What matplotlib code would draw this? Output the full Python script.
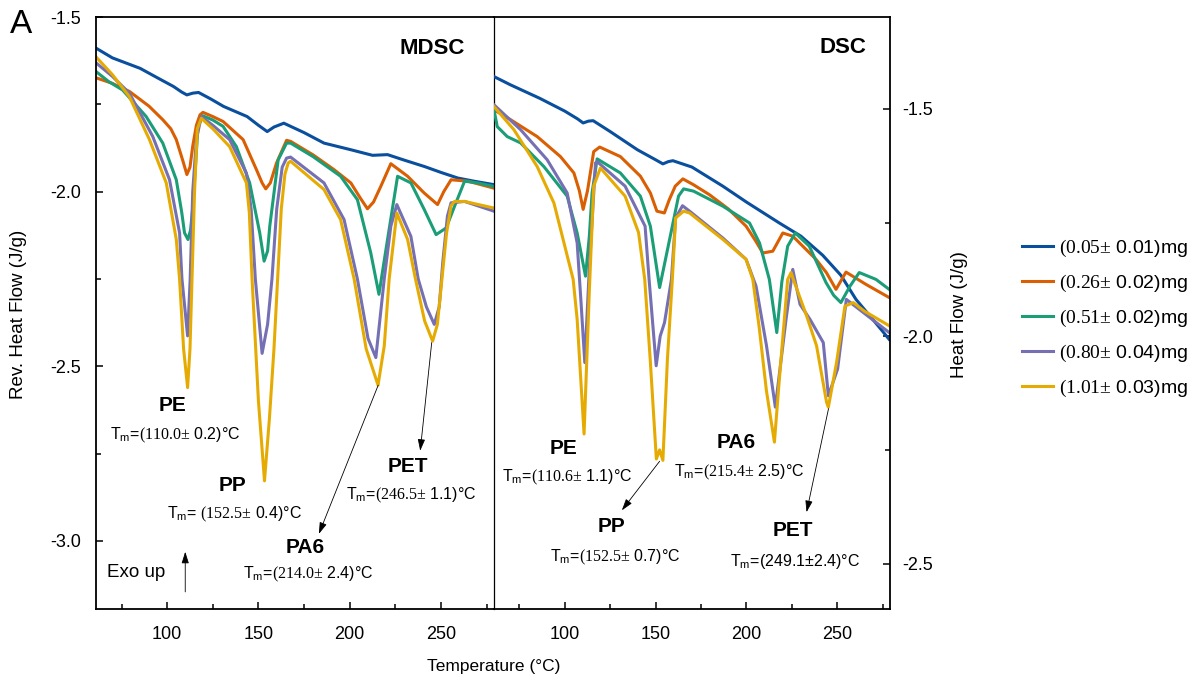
import matplotlib
matplotlib.use("Agg")
import matplotlib.pyplot as plt
from matplotlib.ticker import MultipleLocator

plt.rcParams['font.family'] = ['Liberation Sans', 'DejaVu Sans']
plt.rcParams['mathtext.fontset'] = 'custom'
plt.rcParams['mathtext.rm'] = 'Liberation Serif'
plt.rcParams['mathtext.default'] = 'regular'

# serif "(mass±" followed by sans "error)mg", as in the original
labels = [r'$\mathrm{(0.05±}$ 0.01)mg', r'$\mathrm{(0.26±}$ 0.02)mg',
          r'$\mathrm{(0.51±}$ 0.02)mg', r'$\mathrm{(0.80±}$ 0.04)mg',
          r'$\mathrm{(1.01±}$ 0.03)mg']
colors = ['#0a4f9e', '#d95f02', '#1b9e77', '#7570b3', '#e6ab02']

# ---- MDSC (left panel), reversing heat flow, J/g ----
mdsc_005_T = [61, 70, 85.2, 95, 103.5, 108, 110.8, 114, 117.2, 124, 130.9, 143.8, 150, 154.8,
              158.5, 163.9, 175, 185.9, 200.6, 208, 212.5, 220.7, 230, 240.9, 250, 259.2, 268, 279]
mdsc_005_hf = [-1.589, -1.617, -1.647, -1.675, -1.699, -1.715, -1.723, -1.718, -1.716, -1.735,
               -1.756, -1.785, -1.81, -1.828, -1.815, -1.804, -1.831, -1.861, -1.88, -1.89,
               -1.896, -1.894, -1.91, -1.928, -1.945, -1.961, -1.97, -1.98]

mdsc_026_T = [61, 70, 79.3, 90, 97.6, 102, 105, 108.5, 110.8, 112.5, 114, 116, 118, 119.6,
              125, 130.6, 141.6, 148.9, 152, 154, 156.5, 159.9, 165.4, 167.6, 180, 191.4, 200.6,
              206, 209.7, 213, 217, 222.5, 231.7, 240.8, 248.1, 251.5, 255.5, 264.7, 279]
mdsc_026_hf = [-1.674, -1.69, -1.713, -1.755, -1.794, -1.82, -1.851, -1.91, -1.951, -1.93,
               -1.87, -1.81, -1.78, -1.773, -1.785, -1.799, -1.851, -1.937, -1.975, -1.992,
               -1.975, -1.918, -1.853, -1.856, -1.895, -1.937, -1.975, -2.02, -2.049, -2.03,
               -1.985, -1.92, -1.956, -2.004, -2.037, -2.0, -1.966, -1.97, -1.99]

mdsc_051_T = [61, 68, 75.6, 88.5, 97.6, 105, 108, 109.5, 111.4, 112.8, 114.1, 116.9, 119.6,
              125, 130.6, 137.9, 145.2, 150.7, 153.1, 155, 156.2, 160.8, 165.4, 167.6, 180, 195,
              204.2, 211.5, 216, 220.7, 226.2, 233.5, 240.8, 247.3, 252.8, 257.4, 262.9, 270, 279]
mdsc_051_hf = [-1.656, -1.685, -1.709, -1.785, -1.861, -1.966, -2.06, -2.118, -2.137, -2.11,
               -2.042, -1.813, -1.783, -1.795, -1.813, -1.871, -1.975, -2.118, -2.199, -2.17,
               -2.099, -1.909, -1.861, -1.861, -1.9, -1.956, -2.023, -2.175, -2.294, -2.137,
               -1.956, -1.975, -2.051, -2.123, -2.104, -2.042, -1.97, -1.975, -1.985]

mdsc_080_T = [61, 70, 79.3, 92.1, 101.3, 106.8, 108.1, 111.2, 112.6, 114, 116, 118.7, 125,
              134.2, 143.4, 146, 148.3, 152, 155, 157.4, 160, 163, 165.4, 167.6, 185.9, 196.9,
              204.2, 210, 214.3, 218.9, 222.5, 225.8, 233.5, 237.5, 242, 246.3, 249, 251,
              253.5, 255.5, 262.9, 279]
mdsc_080_hf = [-1.631, -1.67, -1.718, -1.842, -1.966, -2.118, -2.25, -2.413, -2.25, -2.0,
               -1.85, -1.785, -1.81, -1.851, -1.947, -2.05, -2.25, -2.463, -2.38, -2.25, -2.05,
               -1.93, -1.904, -1.901, -1.975, -2.08, -2.25, -2.42, -2.475, -2.25, -2.099,
               -2.037, -2.128, -2.25, -2.33, -2.38, -2.33, -2.2, -2.07, -2.032, -2.028, -2.056]

mdsc_101_T = [61, 70, 79.3, 90.3, 99.5, 105, 106.8, 109, 111.2, 112.5, 113.6, 115, 116.5,
              118.7, 125, 134.2, 143.4, 145, 146.5, 150, 153.3, 156, 158.5, 160.5, 162.5, 164.5,
              166.3, 167.6, 185.9, 195, 202.4, 209, 215.5, 218.9, 221.6, 225.8, 231.7, 236, 241,
              245.4, 248, 250.5, 253, 255.5, 257.4, 262.9, 279]
mdsc_101_hf = [-1.614, -1.665, -1.728, -1.851, -1.975, -2.137, -2.251, -2.45, -2.561, -2.45,
               -2.251, -2.0, -1.82, -1.79, -1.82, -1.871, -1.975, -2.06, -2.25, -2.6, -2.828,
               -2.65, -2.45, -2.25, -2.05, -1.95, -1.918, -1.913, -1.994, -2.08, -2.25, -2.45,
               -2.554, -2.442, -2.25, -2.061, -2.137, -2.25, -2.37, -2.428, -2.38, -2.25, -2.12,
               -2.04, -2.028, -2.028, -2.047]

# ---- DSC (right panel), heat flow, J/g ----
dsc_005_T = [61, 70, 86.3, 100, 107, 110.1, 113, 115.6, 125, 140, 150, 154, 157, 159.5, 170,
             187, 200, 218.1, 230, 242, 252, 260.3, 271, 278.6]
dsc_005_hf = [-1.429, -1.447, -1.477, -1.505, -1.522, -1.531, -1.527, -1.526, -1.55, -1.59,
              -1.612, -1.621, -1.616, -1.614, -1.628, -1.67, -1.705, -1.751, -1.78, -1.822,
              -1.866, -1.919, -1.97, -2.007]

dsc_026_T = [61, 70.2, 84.8, 97.6, 105, 108, 110.1, 112.5, 115.9, 119.2, 130.6, 141.6, 147.1,
             150.7, 154.8, 157.5, 160.8, 165, 170.9, 179.7, 190, 199.8, 205, 209, 214.5, 220,
             225.5, 238.3, 244, 249.3, 254.8, 265.8, 278.6]
dsc_026_hf = [-1.502, -1.524, -1.561, -1.605, -1.641, -1.68, -1.721, -1.68, -1.594, -1.584,
              -1.605, -1.648, -1.685, -1.725, -1.729, -1.7, -1.67, -1.654, -1.667, -1.689,
              -1.72, -1.758, -1.79, -1.817, -1.813, -1.773, -1.78, -1.831, -1.86, -1.897,
              -1.859, -1.886, -1.915]

dsc_051_T = [61, 62.8, 68.3, 75.7, 88.5, 101.3, 106.8, 111.4, 113.5, 115, 117.8, 130.6, 141.6,
             147.1, 152.2, 156.2, 162.6, 165.4, 170.9, 187, 201.7, 207.2, 212.6, 216.7, 219.5,
             222.7, 226.9, 234.6, 243.8, 248, 252, 257, 262.1, 271.3, 278.6]
dsc_051_hf = [-1.502, -1.539, -1.561, -1.575, -1.627, -1.692, -1.773, -1.868, -1.78, -1.685,
              -1.61, -1.641, -1.692, -1.758, -1.893, -1.816, -1.692, -1.676, -1.681, -1.714,
              -1.751, -1.795, -1.875, -1.992, -1.88, -1.802, -1.773, -1.802, -1.882, -1.91,
              -1.926, -1.89, -1.86, -1.875, -1.897]

dsc_080_T = [61, 75.7, 90.3, 101.3, 106.8, 109, 111, 113.5, 116.9, 117.8, 133.2, 144.2, 146.4,
             150.3, 152.5, 154.9, 158.7, 161, 164.8, 168.7, 187, 199.8, 205.3, 211, 215.9,
             221.8, 225.5, 229.5, 235, 242.3, 245.1, 250.2, 255, 265, 278.6]
dsc_080_hf = [-1.491, -1.546, -1.612, -1.685, -1.795, -1.93, -2.058, -1.85, -1.619, -1.616,
              -1.67, -1.758, -1.875, -2.065, -2.0, -1.97, -1.875, -1.74, -1.713, -1.725, -1.784,
              -1.831, -1.89, -2.02, -2.156, -1.963, -1.853, -1.93, -1.963, -2.014, -2.131,
              -2.072, -1.919, -1.95, -1.992]

dsc_101_T = [61, 72, 84.8, 94, 104.6, 106.8, 110.6, 113.5, 115.9, 119.6, 133.2, 140.6, 144,
             147, 150.4, 152.2, 154, 156.5, 159.2, 161, 165.4, 168.7, 187, 199.8, 203.5, 207,
             211, 215.4, 218, 220.5, 222.7, 224.6, 225.8, 233.1, 238.6, 244.1, 245.1, 249.6,
             254.2, 258.8, 265, 278.6]
dsc_101_hf = [-1.495, -1.546, -1.627, -1.707, -1.875, -1.963, -2.215, -1.9, -1.67, -1.63,
              -1.692, -1.772, -1.875, -2.05, -2.27, -2.25, -2.273, -2.05, -1.875, -1.74,
              -1.725, -1.729, -1.787, -1.831, -1.875, -1.98, -2.12, -2.233, -2.1, -1.98,
              -1.875, -1.86, -1.875, -1.955, -2.021, -2.145, -2.156, -2.058, -1.934, -1.926,
              -1.945, -1.977]

mdsc_T = [mdsc_005_T, mdsc_026_T, mdsc_051_T, mdsc_080_T, mdsc_101_T]
mdsc_hf = [mdsc_005_hf, mdsc_026_hf, mdsc_051_hf, mdsc_080_hf, mdsc_101_hf]
dsc_T = [dsc_005_T, dsc_026_T, dsc_051_T, dsc_080_T, dsc_101_T]
dsc_hf = [dsc_005_hf, dsc_026_hf, dsc_051_hf, dsc_080_hf, dsc_101_hf]

fig = plt.figure(figsize=(12.01, 6.86), dpi=100)
ax1 = fig.add_axes([0.0799, 0.1122, 0.3314, 0.863])
ax2 = fig.add_axes([0.4113, 0.1122, 0.3297, 0.863])
ax2.patch.set_visible(False)

lines = []
for T, hf, c, lab in zip(mdsc_T, mdsc_hf, colors, labels):
    ln, = ax1.plot(T, hf, color=c, lw=2.2, label=lab, solid_joinstyle='round')
    lines.append(ln)
for T, hf, c in zip(dsc_T, dsc_hf, colors):
    ax2.plot(T, hf, color=c, lw=2.2, solid_joinstyle='round')

ax1.set_xlim(61, 279)
ax1.set_ylim(-3.195, -1.5)
ax2.set_xlim(61, 279)
ax2.set_ylim(-2.6, -1.298)

for ax in (ax1, ax2):
    ax.xaxis.set_major_locator(MultipleLocator(50))
    ax.xaxis.set_minor_locator(MultipleLocator(25))
    ax.yaxis.set_major_locator(MultipleLocator(0.5))
    ax.yaxis.set_minor_locator(MultipleLocator(0.25))
    ax.yaxis.set_major_formatter(plt.FormatStrFormatter('%.1f'))
    ax.tick_params(which='both', direction='in', width=1.1, labelsize=13)
    ax.tick_params(which='major', length=5)
    ax.tick_params(which='minor', length=3.5)
    ax.tick_params(axis='x', pad=12)
    for s in ax.spines.values():
        s.set_linewidth(1.3)

ax1.tick_params(axis='y', which='both', left=True, right=False, pad=11)
ax1.spines['right'].set_linewidth(0.9)
ax2.spines['left'].set_visible(False)
ax2.yaxis.tick_right()
ax2.tick_params(axis='y', which='both', left=False, right=True, pad=9)

# panel titles
ax1.text(263, -1.589, 'MDSC', fontsize=16, fontweight='bold', ha='right', va='center')
ax2.text(266, -1.366, 'DSC', fontsize=16, fontweight='bold', ha='right', va='center')

tm_size = 11.5
# MDSC annotations
ax1.text(102.9, -2.611, 'PE', fontsize=15, fontweight='bold', ha='center', va='center')
ax1.text(104.4, -2.699, r'T$_m$=$\mathrm{(110.0±}$ 0.2)°C', fontsize=tm_size,
         ha='center', va='center')
ax1.text(135.6, -2.84, 'PP', fontsize=15, fontweight='bold', ha='center', va='center')
ax1.text(136.8, -2.923, r'T$_m$= $\mathrm{(152.5±}$ 0.4)°C', fontsize=tm_size,
         ha='center', va='center')
ax1.text(175.8, -3.02, 'PA6', fontsize=15, fontweight='bold', ha='center', va='center')
ax1.text(177.5, -3.097, r'T$_m$=$\mathrm{(214.0±}$ 2.4)°C', fontsize=tm_size,
         ha='center', va='center')
ax1.text(231.7, -2.788, 'PET', fontsize=15, fontweight='bold', ha='center', va='center')
ax1.text(233.5, -2.871, r'T$_m$=$\mathrm{(246.5±}$ 1.1)°C', fontsize=tm_size,
         ha='center', va='center')
ax1.text(66.9, -3.089, 'Exo up', fontsize=13.5, ha='left', va='center')

arrow = dict(arrowstyle='-|>,head_length=0.7,head_width=0.22', lw=0.6, color='k',
             shrinkA=0, shrinkB=0)
ax1.annotate('', xy=(109.9, -3.031), xytext=(109.9, -3.146), arrowprops=arrow)
ax1.annotate('', xy=(183.1, -2.98), xytext=(215.6, -2.554), arrowprops=arrow)
ax1.annotate('', xy=(238.6, -2.742), xytext=(244.9, -2.432), arrowprops=arrow)

# DSC annotations
ax2.text(99.5, -2.246, 'PE', fontsize=15, fontweight='bold', ha='center', va='center')
ax2.text(101.3, -2.31, r'T$_m$=$\mathrm{(110.6±}$ 1.1)°C', fontsize=tm_size,
         ha='center', va='center')
ax2.text(125.7, -2.419, 'PP', fontsize=15, fontweight='bold', ha='center', va='center')
ax2.text(127.5, -2.487, r'T$_m$=$\mathrm{(152.5±}$ 0.7)°C', fontsize=tm_size,
         ha='center', va='center')
ax2.text(194.3, -2.233, 'PA6', fontsize=15, fontweight='bold', ha='center', va='center')
ax2.text(195.8, -2.299, r'T$_m$=$\mathrm{(215.4±}$ 2.5)°C', fontsize=tm_size,
         ha='center', va='center')
ax2.text(225.5, -2.427, 'PET', fontsize=15, fontweight='bold', ha='center', va='center')
ax2.text(226.9, -2.495, 'T$_m$=(249.1±2.4)°C', fontsize=tm_size, ha='center', va='center')
ax2.annotate('', xy=(131.4, -2.383), xytext=(152.2, -2.275), arrowprops=arrow)
ax2.annotate('', xy=(233.1, -2.387), xytext=(245.2, -2.159), arrowprops=arrow)

# axis labels
fig.text(0.015, 0.541, 'Rev. Heat Flow (J/g)', rotation=90, fontsize=13.5,
         ha='center', va='center')
fig.text(0.799, 0.541, 'Heat Flow (J/g)', rotation=90, fontsize=13.5,
         ha='center', va='center')
fig.text(0.411, 0.029, 'Temperature (°C)', fontsize=12.5, ha='center', va='center')
fig.text(0.008, 0.965, 'A', fontsize=24, ha='left', va='center')

fig.legend(handles=lines, loc='center left', bbox_to_anchor=(0.851, 0.536),
           frameon=False, fontsize=14, handlelength=1.6, handletextpad=0.3,
           labelspacing=0.72, borderpad=0, borderaxespad=0)

fig.savefig('out.png', dpi=100)
